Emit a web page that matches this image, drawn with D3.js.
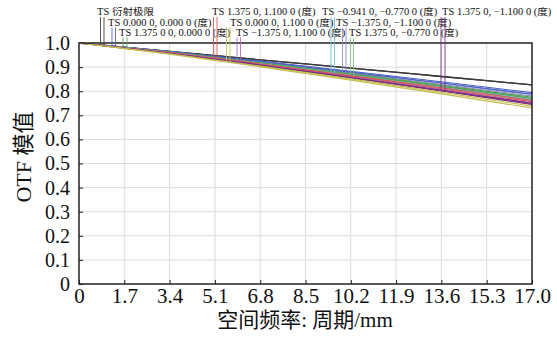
<!DOCTYPE html>
<html><head><meta charset="utf-8">
<script src="https://cdn.jsdelivr.net/npm/d3@7"></script>
<style>
body{margin:0;background:#fff;}
text{font-family:"Liberation Serif","Times New Roman","Noto Sans CJK SC",serif;fill:#111;}
</style></head>
<body><svg id="c" width="557" height="342"></svg>
<script>
// ---- data ----
const freqs = [0, 3.4, 6.8, 10.2, 13.6, 17.0];
const xTicks = [0, 1.7, 3.4, 5.1, 6.8, 8.5, 10.2, 11.9, 13.6, 15.3, 17.0];
const yTicks = [0, 0.1, 0.2, 0.3, 0.4, 0.5, 0.6, 0.7, 0.8, 0.9, 1.0];
const diffT = [1, 0.965, 0.930, 0.896, 0.861, 0.826];
const diffS = [1, 0.965, 0.930, 0.896, 0.861, 0.826];
const f1T = [1, 0.965, 0.925, 0.883, 0.839, 0.794];
const f1S = [1, 0.964, 0.923, 0.879, 0.834, 0.788];
const f2T = [1, 0.962, 0.918, 0.872, 0.824, 0.775];
const f2S = [1, 0.961, 0.916, 0.869, 0.820, 0.770];
const f3T = [1, 0.960, 0.913, 0.864, 0.814, 0.762];
const f3S = [1, 0.959, 0.911, 0.861, 0.809, 0.756];
const f4T = [1, 0.955, 0.904, 0.851, 0.795, 0.738];
const f4S = [1, 0.954, 0.901, 0.846, 0.789, 0.730];
const f5T = [1, 0.958, 0.909, 0.859, 0.806, 0.752];
const f5S = [1, 0.957, 0.908, 0.856, 0.803, 0.748];
const f6T = [1, 0.960, 0.914, 0.866, 0.816, 0.765];
const f6S = [1, 0.959, 0.912, 0.863, 0.812, 0.760];
const f7T = [1, 0.964, 0.922, 0.878, 0.833, 0.786];
const f7S = [1, 0.963, 0.920, 0.875, 0.828, 0.780];
const f8T = [1, 0.961, 0.917, 0.870, 0.822, 0.772];
const f8S = [1, 0.961, 0.915, 0.868, 0.819, 0.768];
const f9T = [1, 0.957, 0.909, 0.857, 0.804, 0.750];
const f9S = [1, 0.957, 0.907, 0.855, 0.801, 0.745];
const fieldLabels = ["TS 衍射极限","TS 0.000 0, 0.000 0 (度)","TS 1.375 0 0, 0.000 0 (度)","TS 1.375 0, 1.100 0 (度)",
  "TS 0.000 0, 1.100 0 (度)","TS −1.375 0, 1.100 0 (度)","TS −0.941 0, −0.770 0 (度)","TS −1.375 0, −1.100 0 (度)",
  "TS 1.375 0, −0.770 0 (度)","TS 1.375 0, −1.100 0 (度)"];
const colors = ["#3a3a3a","#4a60c0","#55a055","#e05048","#c4be50","#a868b8","#70b8cf","#8888cc","#80c480","#7a2a82"];
const seriesT = [diffT,f1T,f2T,f3T,f4T,f5T,f6T,f7T,f8T,f9T];
const seriesS = [diffS,f1S,f2S,f3S,f4S,f5S,f6S,f7S,f8S,f9S];
// legend layout (pixels): text x, row, marker line x pair
const legendLayout = [
  {tx:97,row:0,lx:[100.5,104]},
  {tx:108,row:1,lx:[112,115.5]},
  {tx:119,row:2,lx:[123,127]},
  {tx:212,row:0,lx:[213.5,217]},
  {tx:230,row:1,lx:[226.5,230]},
  {tx:236,row:2,lx:[237,240.5]},
  {tx:322,row:0,lx:[331,334.5]},
  {tx:336,row:1,lx:[342.5,346]},
  {tx:349,row:2,lx:[350.5,353.5]},
  {tx:442,row:0,lx:[441,445]}
];
const drawOrder = [0,7,1,8,2,6,3,5,9,4];

// ---- chart ----
const svg = d3.select("#c");
const L=79, R=532, T=43, B=284;
const x = d3.scaleLinear().domain([0,17]).range([L,R]);
const y = d3.scaleLinear().domain([0,1]).range([B,T]);

// grid
svg.append("g").selectAll("line").data(xTicks.slice(1,-1)).join("line")
  .attr("x1",d=>x(d)).attr("x2",d=>x(d)).attr("y1",T).attr("y2",B)
  .attr("stroke","#dcdcdc").attr("stroke-width",1);
svg.append("g").selectAll("line").data(yTicks.slice(1,-1)).join("line")
  .attr("y1",d=>y(d)).attr("y2",d=>y(d)).attr("x1",L).attr("x2",R)
  .attr("stroke","#dcdcdc").attr("stroke-width",1);

// axes
const fmtX = d=>d===0?"0":d.toFixed(1);
const fmtY = d=>d===0?"0":d.toFixed(1);
const gx = svg.append("g").attr("transform",`translate(0,${B})`)
  .call(d3.axisBottom(x).tickValues(xTicks).tickFormat(fmtX).tickSizeInner(-4).tickSizeOuter(0).tickPadding(4));
const gy = svg.append("g").attr("transform",`translate(${L},0)`)
  .call(d3.axisLeft(y).tickValues(yTicks).tickFormat(fmtY).tickSizeInner(-4).tickSizeOuter(0).tickPadding(9));
[gx,gy].forEach((g,k)=>{
  g.attr("font-family",null);
  g.select(".domain").remove();
  g.selectAll("line").attr("stroke","#222");
  g.selectAll("text").attr("font-size",k===0?21:20).attr("fill","#111")
   .style("font-family",'"Liberation Serif","Times New Roman",serif');
});

// lines
const line = d3.line().x((d,i)=>x(freqs[i])).y(d=>y(d)).curve(d3.curveMonotoneX);
const pg = svg.append("g");
drawOrder.forEach(i=>{
  [seriesS[i],seriesT[i]].forEach(s=>{
    pg.append("path").attr("d",line(s)).attr("fill","none")
      .attr("stroke",colors[i]).attr("stroke-width",i===0?1.3:1.1);
  });
});

// frame
svg.append("rect").attr("x",L).attr("y",T).attr("width",R-L).attr("height",B-T)
  .attr("fill","none").attr("stroke","#222").attr("stroke-width",1.5);

// legend
function valAt(arr, fx){
  for(let k=0;k<freqs.length-1;k++){
    if(fx<=freqs[k+1]){
      const t=(fx-freqs[k])/(freqs[k+1]-freqs[k]);
      return arr[k]+(arr[k+1]-arr[k])*t;
    }
  }
  return arr[arr.length-1];
}
const rowBase=[15,25.5,35.5];
const lg = svg.append("g");
legendLayout.forEach((p,i)=>{
  [seriesT[i],seriesS[i]].forEach((s,j)=>{
    const px=p.lx[j];
    const v=valAt(s,x.invert(px));
    lg.append("line").attr("x1",px).attr("x2",px).attr("y1",rowBase[p.row]+2).attr("y2",y(v))
      .attr("stroke",colors[i]).attr("stroke-width",1).attr("opacity",0.85);
  });
  lg.append("text").attr("transform",`translate(${p.tx},${rowBase[p.row]}) scale(1.12,1)`)
    .attr("font-size",9.4).text(fieldLabels[i]);
});

// axis titles
svg.append("text").attr("x",305).attr("y",327).attr("text-anchor","middle")
  .attr("font-size",21).text("空间频率: 周期/mm");
svg.append("text").attr("transform",`translate(31,157) rotate(-90)`).attr("text-anchor","middle")
  .attr("font-size",22).text("OTF 模值");
</script></body></html>
